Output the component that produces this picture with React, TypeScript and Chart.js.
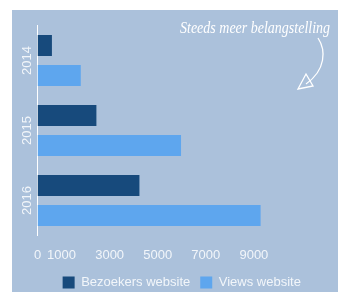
import React, { useEffect, useRef } from "react";
import { Chart, registerables } from "chart.js";
Chart.register(...registerables);

const categories = ["2014", "2015", "2016"];
const bezoekers = [600, 2450, 4240];
const views = [1800, 5970, 9280];
const shownTicks = [0, 1000, 3000, 5000, 7000, 9000];
const seriesNames = ["Bezoekers website", "Views website"];
const annotation = "Steeds meer belangstelling";

const PANEL = "#abc1db";
const DARK = "#174a7c";
const LIGHT = "#5ea6ee";
const TEXT = "#f2f6fa";
const FONT = { family: "'Liberation Sans', Arial, sans-serif", size: 13 };

export default function App() {
  const ref = useRef<HTMLCanvasElement>(null);
  useEffect(() => {
    const panelPlugin = {
      id: "panel",
      beforeDraw(chart: any) {
        const { ctx, width, height } = chart;
        ctx.save();
        ctx.fillStyle = "#ffffff";
        ctx.fillRect(0, 0, width, height);
        ctx.fillStyle = PANEL;
        ctx.fillRect(12, 10, width - 12, height - 10);
        ctx.restore();
      },
      afterDraw(chart: any) {
        const { ctx } = chart;
        ctx.save();
        ctx.fillStyle = "#ffffff";
        ctx.font = "italic 14px 'Liberation Serif', serif";
        ctx.textBaseline = "alphabetic";
        ctx.translate(180, 33);
        ctx.scale(1, 1.25);
        ctx.fillText(annotation, 0, 0);
        ctx.restore();
        ctx.save();
        ctx.strokeStyle = "#ffffff";
        ctx.lineWidth = 1.3;
        ctx.beginPath();
        ctx.moveTo(318, 38);
        ctx.bezierCurveTo(326, 50, 326, 70, 306, 84);
        ctx.stroke();
        ctx.beginPath();
        ctx.moveTo(298, 89);
        ctx.lineTo(306, 74);
        ctx.lineTo(313, 86);
        ctx.closePath();
        ctx.stroke();
        ctx.restore();
      },
    };
    const chart = new Chart(ref.current as HTMLCanvasElement, {
      type: "bar",
      data: {
        labels: categories,
        datasets: [
          { label: seriesNames[0], data: bezoekers, backgroundColor: DARK, categoryPercentage: 0.857, barPercentage: 0.7 },
          { label: seriesNames[1], data: views, backgroundColor: LIGHT, categoryPercentage: 0.857, barPercentage: 0.7 },
        ],
      },
      options: {
        indexAxis: "y",
        animation: false,
        responsive: false,
        layout: { padding: { left: 12, top: 25.5, right: 10, bottom: -7 } },
        scales: {
          x: {
            min: 0,
            max: 12000,
            grid: { display: false, drawTicks: false },
            border: { display: false },
            ticks: {
              stepSize: 1000,
              autoSkip: false,
              maxRotation: 0,
              padding: 12,
              color: TEXT,
              font: FONT,
              callback: (v: any) => (shownTicks.includes(Number(v)) ? String(v) : ""),
            },
            afterFit: (s: any) => {
              s.height = 30.5;
            },
          },
          y: {
            grid: { display: false, drawTicks: false },
            border: { display: true, color: "#ffffff", dash: [4, 4], width: 1 },
            ticks: { minRotation: 90, maxRotation: 90, crossAlign: "center", padding: -4, color: TEXT, font: FONT },
            afterFit: (s: any) => {
              s.width = 25.5;
            },
          },
        },
        plugins: {
          legend: {
            position: "bottom",
            fullSize: false,
            labels: { boxWidth: 12, boxHeight: 12, padding: 10, color: TEXT, font: FONT },
          },
          tooltip: { enabled: false },
        },
      } as any,
      plugins: [panelPlugin],
    });
    return () => chart.destroy();
  }, []);
  return (
    <div style={{ position: "absolute", left: 0, top: 0, width: 338, height: 292 }}>
      <canvas ref={ref} width={338} height={292} style={{ display: "block", width: 338, height: 292 }} />
    </div>
  );
}
